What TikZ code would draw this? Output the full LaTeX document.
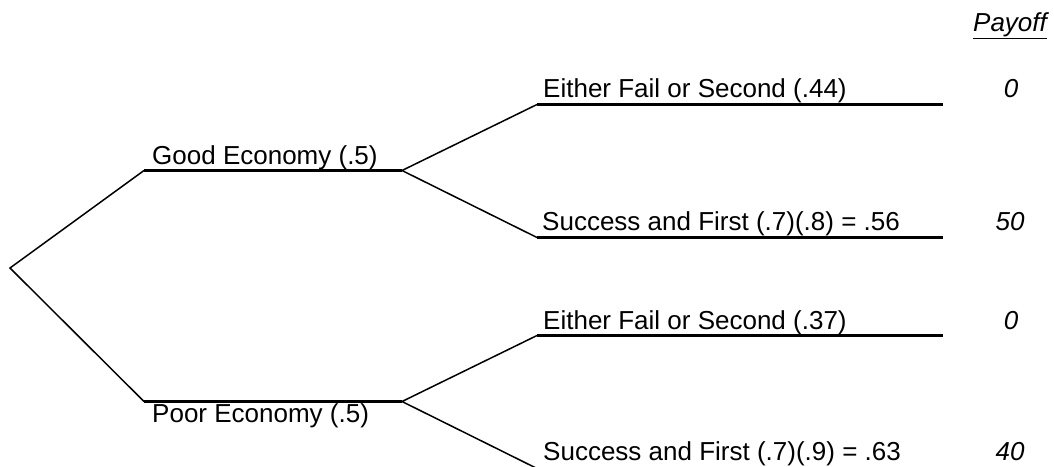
\documentclass[tikz,border=0pt]{standalone}
\usepackage{fontspec}
\setmainfont{Liberation Sans}
\begin{document}
\begin{tikzpicture}[x=1pt,y=-1pt,
  lbl/.style={anchor=base west,inner sep=0pt,font=\fontsize{26}{30}\selectfont},
  pay/.style={anchor=base,inner sep=0pt,font=\fontsize{26}{30}\selectfont\itshape},
  branch/.style={line width=1.5pt},
  bar/.style={line width=3pt}]
\useasboundingbox (0,0) rectangle (1054,466);
\clip (0,0) rectangle (1054,466);
% junction coordinates
\coordinate (root) at (10,268);
\coordinate (gs) at (144,170.5);   \coordinate (ge) at (402,170.5);
\coordinate (ps) at (144,401.5);   \coordinate (pe) at (402,401.5);
\coordinate (a1s) at (537,104.5);  \coordinate (a1e) at (943,104.5);
\coordinate (a2s) at (537,237.5);  \coordinate (a2e) at (943,237.5);
\coordinate (b1s) at (537,335.5);  \coordinate (b1e) at (943,335.5);
\coordinate (b2s) at (537,468.5);  \coordinate (b2e) at (943,468.5);
% branches
\draw[branch] (gs) -- (root) -- (ps);
\draw[branch] (a1s) -- (ge) -- (a2s);
\draw[branch] (b1s) -- (pe) -- (b2s);
% bars
\draw[bar] (gs) -- (ge);
\draw[bar] (ps) -- (pe);
\draw[bar] (a1s) -- (a1e);
\draw[bar] (a2s) -- (a2e);
\draw[bar] (b1s) -- (b1e);
\draw[bar] (b2s) -- (b2e);
% labels
\node[lbl] (good) at (152,164) {Good Economy (.5)};
\node[lbl] (poor) at (152,422) {Poor Economy (.5)};
\node[lbl] (a1) at (543,97) {Either Fail or Second (.44)};
\node[lbl] (a2) at (542,230) {Success and First (.7)(.8) = .56};
\node[lbl] (b1) at (543,329) {Either Fail or Second (.37)};
\node[lbl] (b2) at (543,460) {Success and First (.7)(.9) = .63};
% payoffs
\node[pay] (hdr) at (1010,31.5) {\underline{Payoff}};
\node[pay] (p1) at (1011,97) {0};
\node[pay] (p2) at (1010,230) {50};
\node[pay] (p3) at (1011,329) {0};
\node[pay] (p4) at (1010,460) {40};
\end{tikzpicture}
\end{document}
